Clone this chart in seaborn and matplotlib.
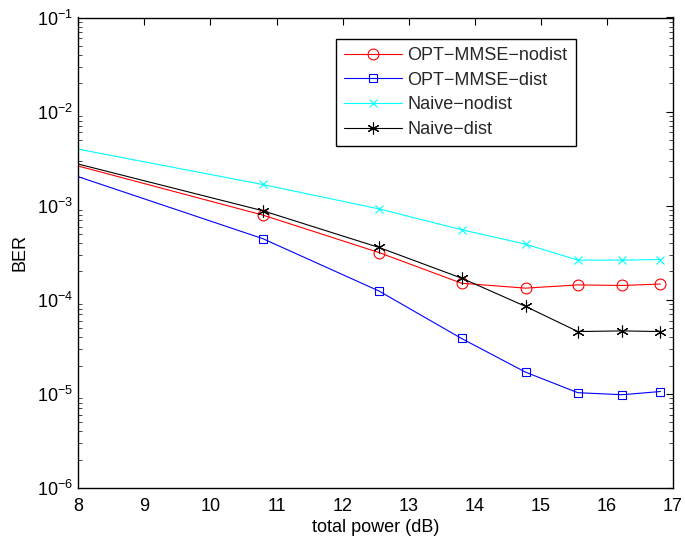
import matplotlib
matplotlib.use("Agg")
import matplotlib.pyplot as plt
import numpy as np
import pandas as pd
import seaborn as sns

# total power in dB (first point lies just left of the plotted range)
power_db = [7.78, 10.79, 12.55, 13.80, 14.77, 15.56, 16.23, 16.81]

ber_opt_nodist = [2.90e-3, 7.96e-4, 3.18e-4, 1.50e-4, 1.33e-4, 1.44e-4, 1.42e-4, 1.47e-4]
ber_opt_dist = [2.29e-3, 4.47e-4, 1.24e-4, 3.88e-5, 1.70e-5, 1.03e-5, 9.8e-6, 1.06e-5]
ber_naive_nodist = [4.27e-3, 1.68e-3, 9.25e-4, 5.56e-4, 3.90e-4, 2.64e-4, 2.64e-4, 2.68e-4]
ber_naive_dist = [3.03e-3, 8.85e-4, 3.60e-4, 1.70e-4, 8.5e-5, 4.6e-5, 4.67e-5, 4.6e-5]

labels = ["OPT\u2212MMSE\u2212nodist", "OPT\u2212MMSE\u2212dist",
          "Naive\u2212nodist", "Naive\u2212dist"]
xticks = [8, 9, 10, 11, 12, 13, 14, 15, 16, 17]

sns.set_theme(style="white")
plt.rcParams["font.family"] = ["Liberation Sans", "DejaVu Sans"]
plt.rcParams["mathtext.fontset"] = "custom"
plt.rcParams["mathtext.rm"] = "Liberation Sans"
plt.rcParams["mathtext.it"] = "Liberation Sans"
plt.rcParams["mathtext.bf"] = "Liberation Sans"

fig = plt.figure(figsize=(6.85, 5.41), dpi=100)
W, H = 685, 541
ax = fig.add_axes([78.3 / W, 1 - 488 / H, (673 - 78.3) / W, (488 - 17.5) / H])

styles = [
    dict(color="red", marker="o", markersize=7.8, markerfacecolor="none"),
    dict(color="blue", marker="s", markersize=6.4, markerfacecolor="none"),
    dict(color="cyan", marker="x", markersize=6.4),
    dict(color="black", marker=(6, 2, 0), markersize=8.5),
]
series = [ber_opt_nodist, ber_opt_dist, ber_naive_nodist, ber_naive_dist]

for vals, lab, st in zip(series, labels, styles):
    df = pd.DataFrame({"power": power_db, "ber": vals})
    sns.lineplot(data=df, x="power", y="ber", ax=ax, label=lab,
                 color=st["color"], marker=st["marker"],
                 markersize=st["markersize"],
                 markerfacecolor=st.get("markerfacecolor", st["color"]),
                 markeredgecolor=st["color"], markeredgewidth=0.8,
                 linewidth=0.8, sort=False, estimator=None)

ax.set_yscale("log")
ax.set_xlim(8, 17)
ax.set_ylim(1e-6, 1e-1)
ax.set_xticks(xticks)
ax.set_xticklabels([str(t) for t in xticks])

for s in ax.spines.values():
    s.set_color("black")
    s.set_linewidth(1.0)

ax.tick_params(which="major", direction="in", length=5, width=0.8,
               top=True, right=True, labelsize=13, colors="black")
ax.tick_params(axis="y", which="major", pad=4)
ax.tick_params(axis="x", which="major", pad=7)
ax.tick_params(which="minor", direction="in", length=3, width=0.6,
               top=False, right=True, left=True, bottom=False)
ax.tick_params(axis="x", which="minor", length=0)

ax.set_xlabel("total power (dB)", fontsize=13, color="black", labelpad=3)
ax.set_ylabel("BER", fontsize=13, color="black", labelpad=6)

leg = ax.legend(loc="upper left", bbox_to_anchor=(336 / W, 1 - 39 / H),
                bbox_transform=fig.transFigure, borderaxespad=0,
                fontsize=13, frameon=True, fancybox=False, shadow=False,
                handlelength=3.2, handletextpad=0.3, labelspacing=0.42,
                borderpad=0.45)
leg.get_frame().set_edgecolor("black")
leg.get_frame().set_linewidth(1.0)
leg.get_frame().set_facecolor("white")
leg.get_frame().set_alpha(1.0)

fig.savefig("out.png", dpi=100, facecolor="white")
